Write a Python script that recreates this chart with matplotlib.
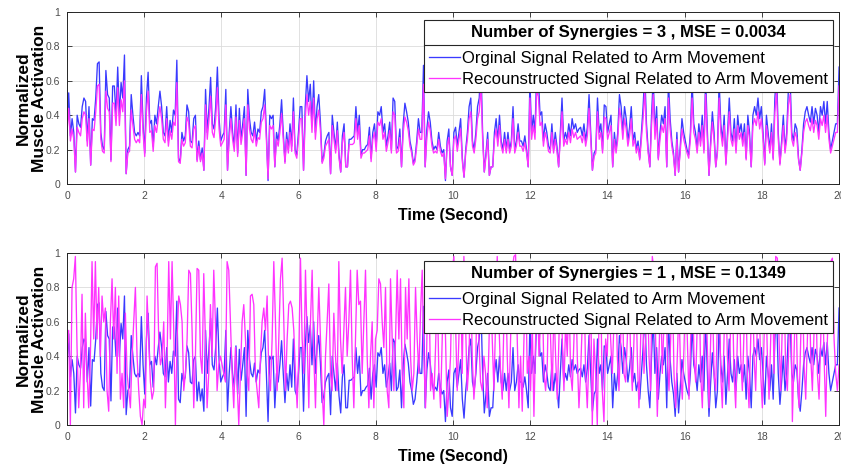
import numpy as np
import matplotlib
matplotlib.use("Agg")
import matplotlib.pyplot as plt
from matplotlib.lines import Line2D

plt.rcParams['font.family'] = ['Liberation Sans', 'DejaVu Sans']

#######################################################################
# Data (values between 0 and 1, 0 - 20 s)
#######################################################################

# original (measured) signal, same in both panels
orig_signal = [
    0.35, 0.53, 0.28, 0.38, 0.30, 0.07, 0.40, 0.35, 0.33, 0.45, 0.50, 0.48, 0.25, 0.45, 0.11, 0.38, 0.37, 0.50, 0.70, 0.71, 0.30, 0.22,
    0.20, 0.66, 0.52, 0.50, 0.14, 0.57, 0.57, 0.40, 0.68, 0.40, 0.59, 0.50, 0.75, 0.06, 0.20, 0.22, 0.52, 0.40, 0.30, 0.28, 0.30, 0.28, 0.63, 0.35,
    0.18, 0.50, 0.65, 0.35, 0.37, 0.22, 0.40, 0.35, 0.45, 0.54, 0.45, 0.30, 0.28, 0.45, 0.25, 0.37, 0.30, 0.43, 0.40, 0.72, 0.15, 0.13, 0.30,
    0.25, 0.28, 0.46, 0.42, 0.25, 0.24, 0.38, 0.40, 0.14, 0.25, 0.14, 0.21, 0.08, 0.55, 0.30, 0.44, 0.62, 0.35, 0.32, 0.45, 0.68, 0.38,
    0.25, 0.28, 0.30, 0.55, 0.08, 0.30, 0.45, 0.30, 0.22, 0.46, 0.18, 0.44, 0.26, 0.35, 0.45, 0.05, 0.55, 0.38, 0.30, 0.28, 0.36, 0.25, 0.32, 0.30,
    0.42, 0.45, 0.55, 0.30, 0.02, 0.40, 0.38, 0.40, 0.10, 0.30, 0.25, 0.35, 0.49, 0.30, 0.13, 0.30, 0.20, 0.35, 0.22, 0.50, 0.20, 0.17, 0.30,
    0.45, 0.45, 0.08, 0.45, 0.63, 0.48, 0.58, 0.35, 0.60, 0.30, 0.45, 0.52, 0.36, 0.13, 0.17, 0.25, 0.28, 0.30, 0.06, 0.40, 0.30, 0.20, 0.36,
    0.17, 0.07, 0.28, 0.35, 0.10, 0.10, 0.26, 0.26, 0.27, 0.28, 0.45, 0.30, 0.40, 0.17, 0.20, 0.20, 0.22, 0.23, 0.33, 0.15, 0.30, 0.35, 0.22,
    0.42, 0.40, 0.45, 0.30, 0.35, 0.22, 0.28, 0.36, 0.20, 0.50, 0.48, 0.20, 0.22, 0.32, 0.10, 0.35, 0.47, 0.42, 0.36, 0.25, 0.20, 0.12,
    0.15, 0.25, 0.38, 0.30, 0.30, 0.69, 0.10, 0.32, 0.42, 0.36, 0.25, 0.20, 0.22, 0.20, 0.30, 0.22, 0.18, 0.20, 0.02, 0.25, 0.32, 0.10, 0.05,
    0.30, 0.33, 0.22, 0.30, 0.38, 0.15, 0.04, 0.20, 0.30, 0.45, 0.50, 0.25, 0.20, 0.30, 0.45, 0.50, 0.70, 0.30, 0.07, 0.18, 0.30, 0.05, 0.10,
    0.10, 0.30, 0.38, 0.25, 0.40, 0.25, 0.20, 0.30, 0.20, 0.30, 0.20, 0.25, 0.45, 0.20, 0.25, 0.35, 0.25, 0.25, 0.22, 0.28, 0.20, 0.10, 0.60,
    0.30, 0.40, 0.30, 0.65, 0.62, 0.40, 0.42, 0.25, 0.35, 0.30, 0.22, 0.20, 0.35, 0.20, 0.30, 0.22, 0.10, 0.30, 0.50, 0.25, 0.30, 0.26, 0.35,
    0.28, 0.38, 0.32, 0.35, 0.30, 0.32, 0.33, 0.28, 0.35, 0.25, 0.33, 0.52, 0.30, 0.08, 0.18, 0.20, 0.50, 0.30, 0.35, 0.20, 0.46, 0.45, 0.30,
    0.35, 0.40, 0.10, 0.30, 0.20, 0.30, 0.52, 0.45, 0.30, 0.45, 0.38, 0.25, 0.33, 0.45, 0.25, 0.30, 0.20, 0.25, 0.15, 0.30, 0.45, 0.65, 0.35,
    0.20, 0.10, 0.40, 0.62, 0.30, 0.45, 0.15, 0.30, 0.40, 0.35, 0.45, 0.10, 0.60, 0.38, 0.25, 0.18, 0.05, 0.30, 0.07, 0.22, 0.38, 0.30, 0.25,
    0.20, 0.17, 0.30, 0.60, 0.35, 0.30, 0.20, 0.35, 0.25, 0.40, 0.20, 0.62, 0.32, 0.05, 0.25, 0.42, 0.30, 0.10, 0.20, 0.60, 0.35, 0.25, 0.40,
    0.12, 0.30, 0.50, 0.30, 0.25, 0.38, 0.20, 0.40, 0.30, 0.35, 0.25, 0.35, 0.15, 0.40, 0.30, 0.10, 0.40, 0.45, 0.40, 0.50, 0.38, 0.45, 0.30,
    0.12, 0.40, 0.30, 0.20, 0.35, 0.15, 0.50, 0.65, 0.30, 0.12, 0.25, 0.40, 0.20, 0.30, 0.55, 0.62, 0.30, 0.25, 0.35, 0.32, 0.15, 0.08, 0.20,
    0.35, 0.42, 0.45, 0.40, 0.36, 0.45, 0.35, 0.44, 0.40, 0.30, 0.45, 0.40, 0.48, 0.35, 0.48, 0.30, 0.20, 0.25, 0.30, 0.35, 0.35, 0.68,
]

# reconstruction with 3 synergies
recon_3 = [
    0.30, 0.44, 0.25, 0.32, 0.26, 0.07, 0.33, 0.30, 0.28, 0.38, 0.42, 0.40, 0.22, 0.38, 0.11, 0.32, 0.31, 0.42, 0.57, 0.58, 0.26, 0.19,
    0.18, 0.54, 0.44, 0.42, 0.13, 0.47, 0.47, 0.34, 0.56, 0.34, 0.49, 0.42, 0.60, 0.06, 0.18, 0.19, 0.43, 0.34, 0.26, 0.24, 0.26, 0.24, 0.52, 0.30,
    0.16, 0.42, 0.54, 0.30, 0.31, 0.19, 0.34, 0.30, 0.38, 0.45, 0.38, 0.26, 0.24, 0.38, 0.22, 0.31, 0.26, 0.36, 0.34, 0.59, 0.13, 0.12, 0.26,
    0.22, 0.24, 0.39, 0.36, 0.22, 0.21, 0.32, 0.34, 0.13, 0.22, 0.13, 0.18, 0.08, 0.46, 0.26, 0.37, 0.51, 0.30, 0.27, 0.38, 0.56, 0.32,
    0.22, 0.24, 0.26, 0.46, 0.08, 0.26, 0.38, 0.26, 0.19, 0.39, 0.16, 0.37, 0.23, 0.30, 0.38, 0.05, 0.46, 0.32, 0.26, 0.24, 0.31, 0.22, 0.27, 0.26,
    0.36, 0.38, 0.46, 0.26, 0.03, 0.34, 0.32, 0.34, 0.10, 0.26, 0.22, 0.30, 0.41, 0.26, 0.12, 0.26, 0.18, 0.30, 0.19, 0.42, 0.18, 0.15, 0.26,
    0.38, 0.38, 0.08, 0.38, 0.52, 0.40, 0.48, 0.30, 0.50, 0.26, 0.38, 0.43, 0.31, 0.12, 0.15, 0.22, 0.24, 0.26, 0.06, 0.34, 0.26, 0.18, 0.31,
    0.15, 0.07, 0.24, 0.30, 0.10, 0.10, 0.23, 0.23, 0.23, 0.24, 0.38, 0.26, 0.34, 0.15, 0.18, 0.18, 0.19, 0.20, 0.28, 0.13, 0.26, 0.30, 0.19,
    0.36, 0.34, 0.38, 0.26, 0.30, 0.19, 0.24, 0.31, 0.18, 0.42, 0.40, 0.18, 0.19, 0.27, 0.10, 0.30, 0.39, 0.36, 0.31, 0.22, 0.18, 0.11,
    0.13, 0.22, 0.32, 0.26, 0.26, 0.58, 0.10, 0.27, 0.36, 0.31, 0.22, 0.18, 0.19, 0.18, 0.26, 0.19, 0.16, 0.18, 0.03, 0.22, 0.27, 0.10, 0.05,
    0.26, 0.28, 0.19, 0.26, 0.32, 0.13, 0.04, 0.18, 0.26, 0.38, 0.42, 0.22, 0.18, 0.26, 0.38, 0.42, 0.58, 0.26, 0.07, 0.16, 0.26, 0.05, 0.10,
    0.10, 0.26, 0.32, 0.22, 0.34, 0.22, 0.18, 0.26, 0.18, 0.26, 0.18, 0.22, 0.38, 0.18, 0.22, 0.30, 0.22, 0.22, 0.19, 0.24, 0.18, 0.10, 0.50,
    0.26, 0.34, 0.26, 0.54, 0.51, 0.34, 0.36, 0.22, 0.30, 0.26, 0.19, 0.18, 0.30, 0.18, 0.26, 0.19, 0.10, 0.26, 0.42, 0.22, 0.26, 0.23, 0.30,
    0.24, 0.32, 0.27, 0.30, 0.26, 0.27, 0.28, 0.24, 0.30, 0.22, 0.28, 0.44, 0.26, 0.08, 0.16, 0.18, 0.42, 0.26, 0.30, 0.18, 0.39, 0.38, 0.26,
    0.30, 0.34, 0.10, 0.26, 0.18, 0.26, 0.44, 0.38, 0.26, 0.38, 0.32, 0.22, 0.28, 0.38, 0.22, 0.26, 0.18, 0.22, 0.14, 0.26, 0.38, 0.54, 0.30,
    0.18, 0.10, 0.34, 0.52, 0.26, 0.38, 0.14, 0.26, 0.34, 0.30, 0.38, 0.10, 0.50, 0.32, 0.22, 0.16, 0.05, 0.26, 0.07, 0.19, 0.32, 0.26, 0.22,
    0.18, 0.15, 0.26, 0.50, 0.30, 0.26, 0.18, 0.30, 0.22, 0.34, 0.18, 0.52, 0.27, 0.05, 0.22, 0.36, 0.26, 0.10, 0.18, 0.50, 0.30, 0.22, 0.34,
    0.11, 0.26, 0.42, 0.26, 0.22, 0.32, 0.18, 0.34, 0.26, 0.30, 0.22, 0.30, 0.14, 0.34, 0.26, 0.10, 0.34, 0.38, 0.34, 0.42, 0.32, 0.38, 0.26,
    0.11, 0.34, 0.26, 0.18, 0.30, 0.14, 0.42, 0.54, 0.26, 0.11, 0.22, 0.34, 0.18, 0.26, 0.46, 0.52, 0.26, 0.22, 0.30, 0.27, 0.14, 0.08, 0.18,
    0.30, 0.36, 0.38, 0.34, 0.31, 0.38, 0.30, 0.37, 0.34, 0.26, 0.38, 0.34, 0.40, 0.30, 0.40, 0.26, 0.18, 0.22, 0.26, 0.30, 0.30, 0.57,
]

# reconstruction with 1 synergy
recon_1 = [
    0.45, 0.55, 0.00, 0.80, 0.85, 0.98, 0.45, 0.10, 0.30, 0.76, 0.10, 0.65, 0.30, 0.10, 0.40, 0.95, 0.50, 0.95, 0.50, 0.80, 0.40, 0.75,
    0.60, 0.68, 0.20, 0.08, 0.60, 0.85, 0.50, 0.80, 0.30, 0.75, 0.15, 0.30, 0.10, 0.65, 0.30, 0.20, 0.10, 0.40, 0.60, 0.80, 0.40, 0.20,
    0.05, 0.00, 0.15, 0.10, 0.75, 0.50, 0.25, 0.15, 0.20, 0.92, 0.94, 0.50, 0.35, 0.40, 0.60, 0.10, 0.40, 0.95, 0.50, 0.95, 0.55, 0.00,
    0.50, 0.75, 0.70, 0.60, 0.20, 0.30, 0.50, 0.90, 0.88, 0.55, 0.10, 0.40, 0.91, 0.90, 0.40, 0.30, 0.88, 0.50, 0.10, 0.30, 0.70, 0.40,
    0.90, 0.60, 0.20, 0.35, 0.40, 0.35, 0.30, 0.25, 0.95, 0.90, 0.60, 0.30, 0.10, 0.45, 0.25, 0.00, 0.30, 0.60, 0.70, 0.50, 0.30, 0.20,
    0.75, 0.76, 0.70, 0.30, 0.20, 0.10, 0.40, 0.60, 0.68, 0.55, 0.75, 0.30, 0.20, 0.50, 0.95, 0.60, 0.20, 0.50, 0.85, 0.97, 0.60, 0.20,
    0.50, 0.70, 0.72, 0.68, 0.55, 0.30, 0.10, 0.40, 0.97, 0.50, 0.30, 0.90, 0.50, 0.10, 0.60, 0.90, 0.40, 0.10, 0.50, 0.80, 0.50, 0.20,
    0.00, 0.40, 0.60, 0.82, 0.30, 0.20, 0.65, 0.40, 0.20, 0.95, 0.50, 0.30, 0.55, 0.80, 0.40, 0.60, 0.90, 0.40, 0.10, 0.50, 0.90, 0.70,
    0.72, 0.30, 0.60, 0.90, 0.40, 0.10, 0.40, 0.60, 0.10, 0.50, 0.55, 0.85, 0.82, 0.60, 0.45, 0.80, 0.20, 0.10, 0.85, 0.50, 0.20, 0.50,
    0.90, 0.50, 0.85, 0.30, 0.10, 0.80, 0.50, 0.85, 0.40, 0.20, 0.30, 0.80, 0.50, 0.30,
    0.65, 0.90, 0.40, 0.10, 0.60, 0.90, 0.20, 0.30, 0.15, 0.45, 0.80, 0.30, 0.10, 0.50, 0.85, 0.50, 0.05, 0.20, 0.40, 0.90, 0.98, 0.60,
    0.20, 0.50, 0.90, 0.30, 0.98, 0.60, 0.20, 0.35, 0.90, 0.40, 0.15, 0.30, 0.85, 0.50, 0.25, 0.20, 0.40, 0.30, 0.10, 0.45, 0.90, 0.50,
    0.20, 0.60, 0.98, 0.60, 0.30, 0.15, 0.60, 0.85, 0.40, 0.10, 0.50, 0.90, 0.98, 0.99, 0.50, 0.10, 0.40, 0.08, 0.50, 0.90, 0.30, 0.40,
    0.20, 0.60, 0.05, 0.50, 0.90, 0.40, 0.60, 0.80, 0.30, 0.20, 0.35, 0.85, 0.50, 0.20, 0.70, 0.40, 0.15, 0.50, 0.90, 0.50, 0.20, 0.60,
    0.40, 0.80, 0.30, 0.20, 0.50, 0.85, 0.40, 0.10, 0.30, 0.60, 0.90, 0.30, 0.10, 0.40, 0.80, 0.00, 0.50, 0.30, 0.00, 0.60, 0.80, 0.20,
    0.02, 0.50, 0.40, 0.80, 0.50, 0.30, 0.60, 0.85, 0.40, 0.20, 0.50, 0.80, 0.30, 0.25, 0.50, 0.85, 0.40, 0.20, 0.50, 0.90, 0.40, 0.10,
    0.50, 0.80, 0.30, 0.50, 0.85, 0.40, 0.20, 0.98, 0.90, 0.50, 0.05, 0.40, 0.80, 0.30, 0.60, 0.90, 0.40, 0.20, 0.50, 0.85, 0.30, 0.10,
    0.40, 0.70, 0.30, 0.15, 0.45, 0.80, 0.50, 0.15, 0.50, 0.85, 0.40, 0.25, 0.60, 0.90, 0.30, 0.10, 0.50, 0.85, 0.45, 0.10, 0.50, 0.80,
    0.30, 0.20, 0.60, 0.90, 0.30, 0.10, 0.50, 0.85, 0.40, 0.20, 0.60, 0.80, 0.30, 0.10, 0.50, 0.90, 0.40, 0.20, 0.55, 0.85, 0.30, 0.10,
    0.50, 0.90, 0.40, 0.20, 0.60, 0.85, 0.30, 0.10, 0.50, 0.85, 0.40, 0.15, 0.50, 0.90, 0.30, 0.98, 0.97, 0.50, 0.20, 0.60, 0.85, 0.30,
    0.20, 0.50, 0.80, 0.02, 0.40, 0.80, 0.30, 0.10, 0.50, 0.85, 0.35, 0.15, 0.50, 0.90, 0.40, 0.20, 0.55, 0.85, 0.30, 0.15, 0.50, 0.85,
    0.40, 0.05, 0.50, 0.80, 0.95, 0.97, 0.50, 0.30, 0.20, 0.35,
]

panel_synergies = [3, 1]
panel_mse = ["0.0034", "0.1349"]
x_ticks = [0, 2, 4, 6, 8, 10, 12, 14, 16, 18, 20]
y_ticks = [0, 0.2, 0.4, 0.6, 0.8, 1]
y_tick_labels = ["0", "0.2", "0.4", "0.6", "0.8", "1"]

label_orig = "Orginal Signal Related to Arm Movement"
label_recon = "Recounstructed Signal Related to Arm Movement"

#######################################################################
# Plot
#######################################################################

BLUE = "#3a3aff"
MAGENTA = "#ff33ff"
DARK = "#262626"

fig = plt.figure(figsize=(8.41, 4.68), dpi=100)
ax_top = fig.add_axes([0.0797, 0.6068, 0.918, 0.3675])
ax_bot = fig.add_axes([0.0797, 0.0919, 0.918, 0.3675])

t_orig = np.linspace(0, 20, len(orig_signal))
t_r3 = np.linspace(0, 20, len(recon_3))
t_r1 = np.linspace(0, 20, len(recon_1))

legends = []
for ax, t_rec, rec, nsyn, mse in [(ax_top, t_r3, recon_3, panel_synergies[0], panel_mse[0]),
                                  (ax_bot, t_r1, recon_1, panel_synergies[1], panel_mse[1])]:
    ax.plot(t_orig, orig_signal, color=BLUE, lw=0.95, label=label_orig)
    ax.plot(t_rec, rec, color=MAGENTA, lw=0.95, label=label_recon)

    ax.set_xlim(0, 20)
    ax.set_ylim(0, 1)
    ax.set_xticks(x_ticks)
    ax.set_yticks(y_ticks)
    ax.set_yticklabels(y_tick_labels)
    ax.grid(True, color="#dcdcdc", lw=0.6)
    ax.set_axisbelow(True)
    ax.tick_params(direction="in", top=True, right=True, length=3.5, width=0.6,
                   color=DARK, labelcolor="#4d4d4d", labelsize=7.5, pad=5)
    for sp in ax.spines.values():
        sp.set_color(DARK)
        sp.set_linewidth(0.7)

    ax.set_xlabel("Time (Second)", fontsize=11.5, fontweight="bold", labelpad=5)
    ax.set_ylabel("Normalized\nMuscle Activation", fontsize=12.5, fontweight="bold",
                  labelpad=-1, linespacing=1.1)

    leg = ax.legend(loc="upper right", bbox_to_anchor=(0.992, 0.955),
                    title="Number of Synergies = %d , MSE = %s" % (nsyn, mse),
                    title_fontproperties={"weight": "bold", "size": 12},
                    fontsize=12, handlelength=1.9, handletextpad=0.1,
                    borderpad=0.3, labelspacing=0.35, borderaxespad=0,
                    fancybox=False, framealpha=1, edgecolor=DARK)
    leg.get_frame().set_linewidth(0.8)
    # a bit more room between title and entries
    leg._legend_box.sep = 8
    legends.append(leg)

# separator line under the legend title (MATLAB style)
fig.canvas.draw()
renderer = fig.canvas.get_renderer()
inv = fig.transFigure.inverted()
for leg in legends:
    box = leg.get_frame().get_window_extent(renderer)
    tb = leg.get_title().get_window_extent(renderer)
    first = leg.get_texts()[0].get_window_extent(renderer)
    y_sep = 0.5 * (tb.y0 + first.y1)
    (x0, y0) = inv.transform((box.x0, y_sep))
    (x1, _) = inv.transform((box.x1, y_sep))
    fig.add_artist(Line2D([x0, x1], [y0, y0], color=DARK, lw=0.8, zorder=10))

fig.savefig("out.png", dpi=100)
